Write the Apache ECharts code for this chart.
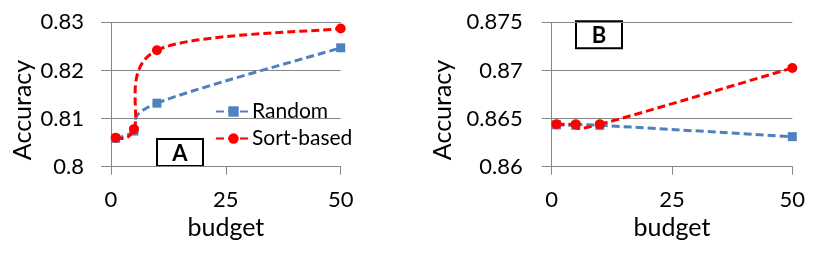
<!DOCTYPE html>
<html>
<head>
<meta charset="utf-8">
<script src="https://cdn.jsdelivr.net/npm/echarts@6/dist/echarts.min.js"></script>
<style>
html,body{margin:0;padding:0;background:#fff;}
#c{width:823px;height:265px;}
</style>
</head>
<body>
<div id="c"></div>
<script>
var budgets = [1, 5, 10, 50];
var randomA = [0.8059, 0.8074, 0.8132, 0.8247];
var sortA = [0.8060, 0.8078, 0.8242, 0.8287];
var randomB = [0.86435, 0.86430, 0.86430, 0.86312];
var sortB = [0.86442, 0.86440, 0.86440, 0.87025];
var seriesNames = ['Random', 'Sort-based'];
var panelLabels = ['A', 'B'];
var xTitle = 'budget';
var yTitle = 'Accuracy';

var FONT = 'Lato';
var BLUE = '#4F81BD';
var RED = '#FF0000';
var GRID = '#868686';
var DASH = [8, 4];

function pairs(xs, ys) { return xs.map(function (x, i) { return [x, ys[i]]; }); }

function xAxis(idx) {
  return {
    gridIndex: idx, type: 'value', min: 0, max: 50, interval: 25,
    name: xTitle, nameLocation: 'middle', nameGap: 45,
    nameTextStyle: { fontFamily: FONT, fontSize: 25, color: '#000' },
    axisLine: { show: true, onZero: false, lineStyle: { color: GRID, width: 1 } },
    axisTick: { show: true, inside: false, length: 8, lineStyle: { color: GRID } },
    axisLabel: { margin: 22, fontFamily: FONT, fontSize: 22, color: '#000' },
    splitLine: { show: false }
  };
}
function yAxis(idx, min, max, interval, margin) {
  return {
    gridIndex: idx, type: 'value', min: min, max: max, interval: interval,
    axisLine: { show: true, onZero: false, lineStyle: { color: GRID, width: 1 } },
    axisTick: { show: true, inside: false, length: 10, lineStyle: { color: GRID } },
    axisLabel: { margin: margin, fontFamily: FONT, fontSize: 22, color: '#000' },
    splitLine: { show: true, lineStyle: { color: GRID, width: 1 } }
  };
}
// markers (and legend entry); the connecting line is drawn by the curve series
function markers(name, idx, data, color, symbol, z) {
  return {
    name: name, type: 'line', xAxisIndex: idx, yAxisIndex: idx,
    data: data, symbol: symbol, symbolSize: symbol === 'rect' ? 9 : 10,
    clip: false,
    lineStyle: { color: color, width: 3, type: DASH, opacity: 0 },
    itemStyle: { color: color },
    z: z
  };
}
// Excel-style smoothed (Catmull-Rom) dashed curve through the data, via axis coords
function curve(idx, data, color, z) {
  return {
    type: 'custom', xAxisIndex: idx, yAxisIndex: idx, data: data, z: z,
    silent: true, clip: false,
    renderItem: function (params, api) {
      if (params.dataIndex !== 0) return null;
      var p = data.map(function (d) { return api.coord(d); });
      var n = p.length, children = [];
      for (var i = 0; i < n - 1; i++) {
        var p0 = p[Math.max(i - 1, 0)], p1 = p[i], p2 = p[i + 1], p3 = p[Math.min(i + 2, n - 1)];
        children.push({
          type: 'bezierCurve',
          shape: {
            x1: p1[0], y1: p1[1], x2: p2[0], y2: p2[1],
            cpx1: p1[0] + (p2[0] - p0[0]) / 6, cpy1: p1[1] + (p2[1] - p0[1]) / 6,
            cpx2: p2[0] - (p3[0] - p1[0]) / 6, cpy2: p2[1] - (p3[1] - p1[1]) / 6
          },
          style: { fill: null, stroke: color, lineWidth: 3, lineDash: DASH }
        });
      }
      return { type: 'group', children: children };
    }
  };
}
function box(label, x, y) {
  return {
    type: 'group', x: x, y: y, z: 10,
    children: [
      { type: 'rect', shape: { x: 0, y: 0, width: 46, height: 27 },
        style: { fill: '#fff', stroke: '#000', lineWidth: 2 } },
      { type: 'text', x: 23, y: 14.5,
        style: { text: label, fontFamily: FONT, fontWeight: 'bold', fontSize: 22,
                 fill: '#000', align: 'center', verticalAlign: 'middle' } }
    ]
  };
}
function ytitle(x, y) {
  return { type: 'text', x: x, y: y, rotation: Math.PI / 2,
    style: { text: yTitle, fontFamily: FONT, fontSize: 25, fill: '#000',
             align: 'center', verticalAlign: 'middle' } };
}

var chart = echarts.init(document.getElementById('c'), null, { renderer: 'canvas' });
chart.setOption({
  animation: false,
  backgroundColor: '#fff',
  grid: [
    { left: 111, top: 22.3, width: 229.7, height: 144.4 },
    { left: 551.7, top: 22.3, width: 240.6, height: 144.4 }
  ],
  xAxis: [xAxis(0), xAxis(1)],
  yAxis: [yAxis(0, 0.8, 0.83, 0.01, 27), yAxis(1, 0.86, 0.875, 0.005, 29)],
  legend: {
    data: seriesNames, orient: 'vertical', left: 210, top: 96,
    itemWidth: 35, itemHeight: 13, itemGap: 6,
    lineStyle: { opacity: 1 },
    textStyle: { fontFamily: FONT, fontSize: 21, color: '#000', padding: [0, 0, 0, -4] }
  },
  graphic: [
    box(panelLabels[0], 157, 139),
    box(panelLabels[1], 576, 21.3),
    ytitle(23, 110),
    ytitle(443, 110)
  ],
  series: [
    markers(seriesNames[0], 0, pairs(budgets, randomA), BLUE, 'rect', 3),
    markers(seriesNames[1], 0, pairs(budgets, sortA), RED, 'circle', 5),
    markers(seriesNames[0], 1, pairs(budgets, randomB), BLUE, 'rect', 3),
    markers(seriesNames[1], 1, pairs(budgets, sortB), RED, 'circle', 5),
    curve(0, pairs(budgets, randomA), BLUE, 2),
    curve(0, pairs(budgets, sortA), RED, 4),
    curve(1, pairs(budgets, randomB), BLUE, 2),
    curve(1, pairs(budgets, sortB), RED, 4)
  ]
});
</script>
</body>
</html>
